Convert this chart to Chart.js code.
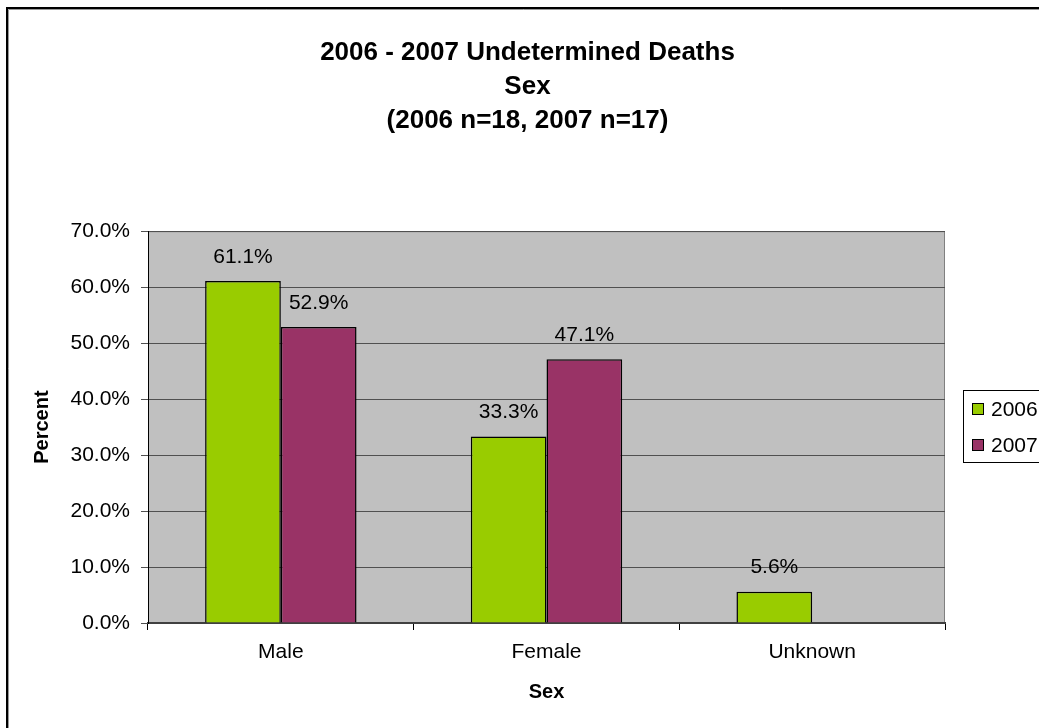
<!DOCTYPE html>
<html>
<head>
<meta charset="utf-8">
<script src="https://cdn.jsdelivr.net/npm/chart.js@4"></script>
<style>
  html, body { margin: 0; padding: 0; background: #fff; }
  #wrap { width: 1039px; height: 728px; position: relative; }
</style>
</head>
<body>
<div id="wrap"><canvas id="myChart" width="1039" height="728"></canvas></div>
<script>
// chart data
const categories = ["Male", "Female", "Unknown"];
const seriesLabels = ["2006", "2007"];
const values2006 = [61.1, 33.3, 5.6];
const values2007 = [52.9, 47.1, null];
const titleLines = ["2006 - 2007 Undetermined Deaths", "Sex", "(2006 n=18, 2007 n=17)"];

const FONT = "Arial, 'Liberation Sans', sans-serif";

/*
    draws the gray plot area, the outer frame, the value labels and the legend box
*/
const excelLook = {
    id: "excelLook",
    beforeDraw(chart) {
        const ctx = chart.ctx;
        const a = chart.chartArea;
        ctx.save();
        ctx.fillStyle = "#fff";
        ctx.fillRect(0, 0, chart.width, chart.height);
        // outer frame (only left and top are visible)
        ctx.strokeStyle = "#000";
        ctx.lineWidth = 2;
        ctx.beginPath();
        ctx.moveTo(7, chart.height);
        ctx.lineTo(7, 8);
        ctx.lineTo(chart.width, 8);
        ctx.stroke();
        ctx.strokeStyle = "#999";
        ctx.lineWidth = 1;
        ctx.beginPath();
        ctx.moveTo(8.5, chart.height);
        ctx.lineTo(8.5, 9.5);
        ctx.lineTo(chart.width, 9.5);
        ctx.stroke();
        // plot area
        ctx.fillStyle = "#c0c0c0";
        ctx.fillRect(a.left, a.top, a.right - a.left, a.bottom - a.top);
        ctx.strokeStyle = "#808080";
        ctx.strokeRect(a.left + 0.5, a.top + 0.5, a.right - a.left - 1, a.bottom - a.top);
        ctx.restore();
    },
    afterDatasetsDraw(chart) {
        const ctx = chart.ctx;
        ctx.save();
        ctx.font = "21px " + FONT;
        ctx.fillStyle = "#000";
        ctx.textAlign = "center";
        ctx.textBaseline = "middle";
        chart.data.datasets.forEach((ds, i) => {
            chart.getDatasetMeta(i).data.forEach((bar, j) => {
                if (ds.data[j] == null) return;
                ctx.fillText(ds.data[j].toFixed(1) + "%", bar.x, bar.y - 24);
            });
        });

        // legend
        const lx = 963, ly = 390;
        ctx.strokeStyle = "#000";
        ctx.lineWidth = 1;
        ctx.fillStyle = "#fff";
        ctx.fillRect(lx, ly, 100, 72);
        ctx.strokeRect(lx + 0.5, ly + 0.5, 100, 72);
        ctx.textAlign = "left";
        chart.data.datasets.forEach((ds, i) => {
            const cy = 409 + i * 36;
            ctx.fillStyle = ds.backgroundColor;
            ctx.fillRect(972, cy - 6, 12, 12);
            ctx.strokeRect(972.5, cy - 5.5, 11, 11);
            ctx.fillStyle = "#000";
            ctx.fillText(ds.label, 991, cy + 1);
        });
        ctx.restore();
    }
};

const ctx = document.getElementById("myChart");
new Chart(ctx, {
    type: "bar",
    data: {
        labels: categories,
        datasets: [
            {
                label: seriesLabels[0],
                data: values2006,
                backgroundColor: "#99cc00",
                borderColor: "#000",
                borderWidth: 1.5,
                categoryPercentage: 0.57,
                barPercentage: 1.0
            },
            {
                label: seriesLabels[1],
                data: values2007,
                backgroundColor: "#993366",
                borderColor: "#000",
                borderWidth: 1.5,
                categoryPercentage: 0.57,
                barPercentage: 1.0
            }
        ]
    },
    options: {
        responsive: false,
        animation: false,
        layout: { padding: { left: 16, top: 0, right: 0, bottom: 0 } },
        plugins: {
            legend: { display: false },
            tooltip: { enabled: false },
            title: {
                display: true,
                text: titleLines,
                color: "#000",
                font: { family: FONT, size: 26, weight: "bold", lineHeight: 1.31 },
                padding: { top: 36, bottom: 93 }
            }
        },
        scales: {
            x: {
                offset: true,
                grid: {
                    offset: true,
                    drawOnChartArea: false,
                    drawTicks: true,
                    tickLength: 7,
                    color: "#000"
                },
                border: { color: "#404040", width: 2 },
                ticks: { color: "#000", font: { family: FONT, size: 21 }, padding: 10 },
                title: {
                    display: true,
                    text: "Sex",
                    color: "#000",
                    font: { family: FONT, size: 20, weight: "bold" },
                    padding: { top: 0, bottom: 24 }
                },
                afterFit(scale) { scale.height = 105; }
            },
            y: {
                min: 0,
                max: 70,
                ticks: {
                    stepSize: 10,
                    color: "#000",
                    font: { family: FONT, size: 21 },
                    padding: 11,
                    callback: v => v.toFixed(1) + "%"
                },
                grid: { color: "#505050", tickLength: 7, lineWidth: 1 },
                border: { color: "#000", width: 1 },
                title: {
                    display: true,
                    text: "Percent",
                    color: "#000",
                    font: { family: FONT, size: 20, weight: "bold" },
                    padding: { top: 14, bottom: 0 }
                },
                afterFit(scale) { scale.width = 132; }
            },
            // empty right-hand scale that keeps room for the legend
            spacer: {
                type: "linear",
                position: "right",
                display: true,
                grid: { display: false },
                border: { display: false },
                ticks: { display: false },
                afterFit(scale) { scale.width = 94; }
            }
        }
    },
    plugins: [excelLook]
});
</script>
</body>
</html>
